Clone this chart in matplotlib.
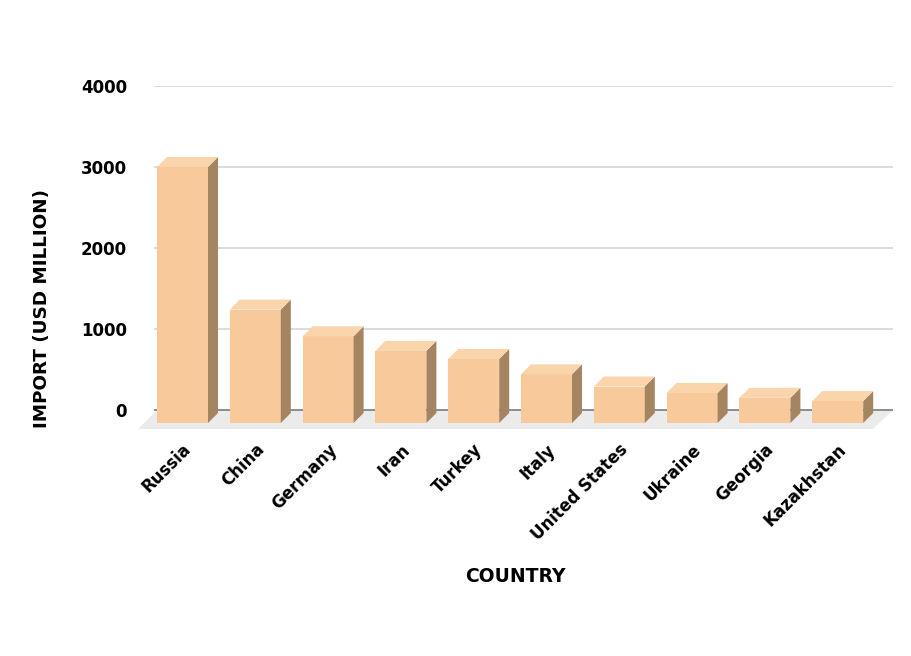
import matplotlib
matplotlib.use("Agg")
import matplotlib.pyplot as plt
from matplotlib.patches import Polygon
from matplotlib.transforms import ScaledTranslation

countries = ["Russia", "China", "Germany", "Iran", "Turkey", "Italy",
             "United States", "Ukraine", "Georgia", "Kazakhstan"]
imports = [3000, 1240, 910, 730, 630, 440, 290, 210, 150, 110]
yticks = [0, 1000, 2000, 3000, 4000]

FRONT = "#F8CA9B"
TOP = "#FAD5AC"
SIDE = "#A58462"
FLOOR = "#EBEBEB"
GRID = "#D9D9D9"
AXIS = "#8C8C8C"

plt.rcParams['font.family'] = ['DejaVu Sans']

W, H = 912, 656
fig = plt.figure(figsize=(W / 100, H / 100), dpi=100)

# pixel geometry
px_left, px_right = 130, 895
px_top, px_bottom = 86, 434.3
ax = fig.add_axes([px_left / W, 1 - px_bottom / H,
                   (px_right - px_left) / W, (px_bottom - px_top) / H])
ax.set_ylim(-300, 4000)
x0, step = 182.5, 72.8
ax.set_xlim((px_left - x0) / step, (px_right - x0) / step)

ppx = step            # pixels per x unit
ppy = 0.081           # pixels per y unit
bw = 51 / ppx
dx = 10 / ppx
dy = 10 / ppy
base = -13 / ppy      # front bottom below back floor line

# floor
gl, gr = (155 - x0) / ppx, (892 - x0) / ppx
floor_front = -19 / ppy
ax.add_patch(Polygon([[(157 - x0) / ppx, 0], [(893 - x0) / ppx, 0],
                      [(873 - x0) / ppx, floor_front], [(138 - x0) / ppx, floor_front]],
                     closed=True, facecolor=FLOOR, edgecolor='none', zorder=1))

# gridlines
for t in yticks[1:]:
    ax.plot([gl, gr], [t, t], color=GRID, lw=1.3, zorder=1.5)
ax.plot([gl, gr], [0, 0], color=AXIS, lw=1.4, zorder=1.6)

xs = list(range(len(countries)))
ax.bar(xs, [v - base for v in imports], bottom=base, width=bw, color=FRONT,
       edgecolor='none', zorder=3)
for x, v in zip(xs, imports):
    l, r = x - bw / 2, x + bw / 2
    ax.add_patch(Polygon([[r, base], [r + dx, base + dy], [r + dx, v + dy], [r, v]],
                         closed=True, facecolor=SIDE, edgecolor='none', zorder=3))
    ax.add_patch(Polygon([[l, v], [r, v], [r + dx, v + dy], [l + dx, v + dy]],
                         closed=True, facecolor=TOP, edgecolor='none', zorder=3))

for s in ax.spines.values():
    s.set_visible(False)
ax.tick_params(length=0)
ax.set_yticks(yticks)
ax.set_yticklabels([str(t) for t in yticks], fontsize=12, fontweight='bold')
ax.tick_params(axis='y', pad=2)
ax.set_xticks(xs)
ax.set_xticklabels(countries, rotation=45, ha='right', va='center',
                   rotation_mode='anchor', fontsize=12, fontweight='bold')
ax.tick_params(axis='x', pad=9)
off = ScaledTranslation(6 / 100, 0, fig.dpi_scale_trans)
for lab in ax.get_xticklabels():
    lab.set_transform(lab.get_transform() + off)

fig.text(515 / W, 1 - 577 / H, "COUNTRY", ha='center', va='center',
         fontsize=13.5, fontweight='bold')
fig.text(42 / W, 1 - 309 / H, "IMPORT (USD MILLION)", ha='center', va='center',
         rotation=90, fontsize=13.2, fontweight='bold')

fig.savefig("out.png", dpi=100, facecolor='white')
